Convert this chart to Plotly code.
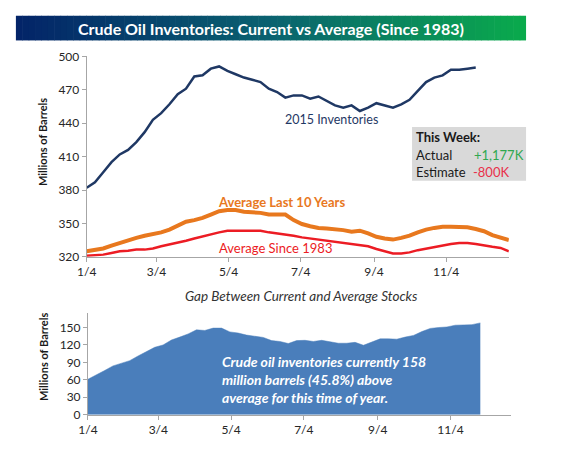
import plotly.graph_objects as go
import pandas as pd

W, H = 587, 473

# ---------------- data ----------------
inv_2015 = [382, 387, 396, 405, 412, 416, 423, 432, 443, 449, 457, 466, 471, 482, 483, 489,
            491, 487, 484, 481, 479, 477, 471, 468, 463, 465, 465, 462, 464, 460, 456, 454,
            456, 451, 454, 458, 456, 454, 457, 461, 469, 477, 481, 483, 488, 488, 489, 490]
avg_10yr = [325, 326, 327.5, 330, 332.5, 335, 337, 339, 340.5, 342, 344.5, 348, 351.5, 353, 355, 358,
            361, 362, 362, 360.5, 360, 359.5, 358, 358, 358, 353, 349.5, 347.5, 346, 345.5, 345, 344,
            342.5, 343.5, 341, 338, 336.5, 335.5, 337, 339, 342, 344.5, 346, 347, 347, 347, 346.5, 345,
            343, 339.5, 337, 335]
avg_1983 = [321, 321.5, 322, 323.5, 325, 325.5, 326.5, 326.5, 327.5, 329.5, 331, 332.5, 334.5, 336.5, 338.5, 340,
            342, 343.5, 343.5, 343.5, 343.5, 343.5, 342, 341, 340.5, 339, 337.5, 336.5, 335, 334.5, 333.5, 332.5,
            331.5, 330.5, 329.5, 327, 325, 323, 323, 324, 326, 327.5, 329, 330.5, 331.5, 332.5, 332.5, 331.5,
            330, 329, 328, 325]
gap = [61, 68, 76, 84, 89, 93, 101, 108, 116, 120, 128.5, 133.5, 139, 146, 145, 149,
       149, 142.5, 140.5, 137, 135, 133, 127.5, 126, 122.5, 127.5, 128, 126, 128, 126, 123, 123,
       124.5, 119.5, 125.5, 130.5, 130.5, 130, 133.5, 136.5, 143, 148.5, 150, 151, 154, 154.5, 155, 158]

weeks = pd.date_range("2015-01-04", periods=52, freq="7D")
tick_vals = ["2015-01-04", "2015-03-04", "2015-05-04", "2015-07-04", "2015-09-04", "2015-11-04"]
tick_text = ["1/4", "3/4", "5/4", "7/4", "9/4", "11/4"]

FONT = "Lato"
NAVY = "#1f3864"
ORANGE = "#e8781e"
RED = "#ec1c24"
AREA = "#4a7ebb"
AXC = "#a6a6a6"


def px(x):
    return x / W


def py(y):
    return 1 - y / H


fig = go.Figure()
fig.add_trace(go.Scatter(x=weeks[:len(avg_1983)], y=avg_1983, mode="lines",
                         line=dict(color=RED, width=2.5), xaxis="x", yaxis="y"))
fig.add_trace(go.Scatter(x=weeks[:len(avg_10yr)], y=avg_10yr, mode="lines",
                         line=dict(color=ORANGE, width=4), xaxis="x", yaxis="y"))
fig.add_trace(go.Scatter(x=weeks[:len(inv_2015)], y=inv_2015, mode="lines",
                         line=dict(color=NAVY, width=2.5), xaxis="x", yaxis="y"))
fig.add_trace(go.Scatter(x=weeks[:len(gap)], y=gap, mode="lines", fill="tozeroy",
                         fillcolor=AREA, line=dict(color=AREA, width=0.5), xaxis="x2", yaxis="y2"))

axis_common = dict(showline=True, linecolor=AXC, linewidth=1, ticks="outside", ticklen=4,
                   tickcolor=AXC, showgrid=False, zeroline=False,
                   tickfont=dict(family=FONT, size=12, color="#262626"))

fig.update_layout(
    width=W, height=H, margin=dict(l=0, r=0, t=0, b=0),
    paper_bgcolor="white", plot_bgcolor="white", showlegend=False, hovermode=False,
    font=dict(family=FONT),
    xaxis=dict(domain=[px(78), px(507.5)], range=["2015-01-04", "2015-12-27"], anchor="y",
               tickvals=tick_vals, ticktext=tick_text, **axis_common),
    yaxis=dict(domain=[py(257), py(50)], range=[320, 500], anchor="x",
               tickvals=[320, 350, 380, 410, 440, 470, 500], **axis_common),
    xaxis2=dict(domain=[px(79.3), px(510)], range=["2015-01-04", "2015-12-25"], anchor="y2",
                tickvals=tick_vals, ticktext=tick_text, **axis_common),
    yaxis2=dict(domain=[py(420), py(315)], range=[0, 175], anchor="x2",
                tickvals=[0, 30, 60, 90, 120, 150], **axis_common),
)

# gradient title banner
c0 = (3, 36, 104)
c1 = (10, 98, 112)
c2 = (10, 170, 76)
n = 80
x_left, x_right = 6, 525
shapes = []
for i in range(n):
    t = i / (n - 1)
    if t < 0.5:
        a, b, u = c0, c1, t / 0.5
    else:
        a, b, u = c1, c2, (t - 0.5) / 0.5
    col = "rgb(%d,%d,%d)" % tuple(round(a[k] + (b[k] - a[k]) * u) for k in range(3))
    xa = x_left + (x_right - x_left) * i / n
    xb = x_left + (x_right - x_left) * (i + 1) / n + 0.6
    shapes.append(dict(type="rect", xref="paper", yref="paper", x0=px(xa), x1=px(min(xb, x_right)),
                       y0=py(33.5), y1=py(8), fillcolor=col, line=dict(width=0), layer="below"))
# "This Week" box
shapes.append(dict(type="rect", xref="paper", yref="paper", x0=px(409), x1=px(525),
                   y0=py(178.5), y1=py(123), fillcolor="#d9d9d9", line=dict(width=0), layer="above"))
fig.update_layout(shapes=shapes)

ann = []


def add(text, x, y, size, color, xanchor="center", textangle=0, align="center"):
    ann.append(dict(text=text, xref="paper", yref="paper", x=px(x), y=py(y), xanchor=xanchor,
                    yanchor="middle", showarrow=False, textangle=textangle, align=align,
                    font=dict(family=FONT, size=size, color=color)))


add("<b>Crude Oil Inventories: Current vs Average (Since 1983)</b>", 266, 21, 16, "white")
add("2015 Inventories", 327, 115, 12.5, NAVY)
add("<b>Average Last 10 Years</b>", 276.5, 200, 13, ORANGE)
add("Average Since 1983", 270, 248, 13, RED)
add("<b>This Week:</b>", 411.5, 133, 13, "#1a1a1a", xanchor="left")
add("Actual", 411.5, 152, 13, "#1a1a1a", xanchor="left")
add("+1,177K", 469.5, 152, 13, "#2fa84f", xanchor="left")
add("Estimate", 411.5, 169.5, 13, "#1a1a1a", xanchor="left")
add("-800K", 469, 169.5, 13, "#e8304a", xanchor="left")
add("<b>Millions of Barrels</b>", 33, 138, 11, "#1a1a1a", textangle=-90)
add("<i>Gap Between Current and Average Stocks</i>", 297, 297, 13.5, "#333333")
add("<b>Millions of Barrels</b>", 34, 360, 11, "#1a1a1a", textangle=-90)
add("<b><i>Crude oil inventories currently 158<br>million barrels (45.8%) above<br>average for this time of year.</i></b>",
    214, 384, 14, "white", xanchor="left", align="left")
fig.update_layout(annotations=ann)

fig.write_html("out.html", config={"displayModeBar": False},
               post_script="document.body.style.margin='0';document.body.style.overflow='hidden';")
